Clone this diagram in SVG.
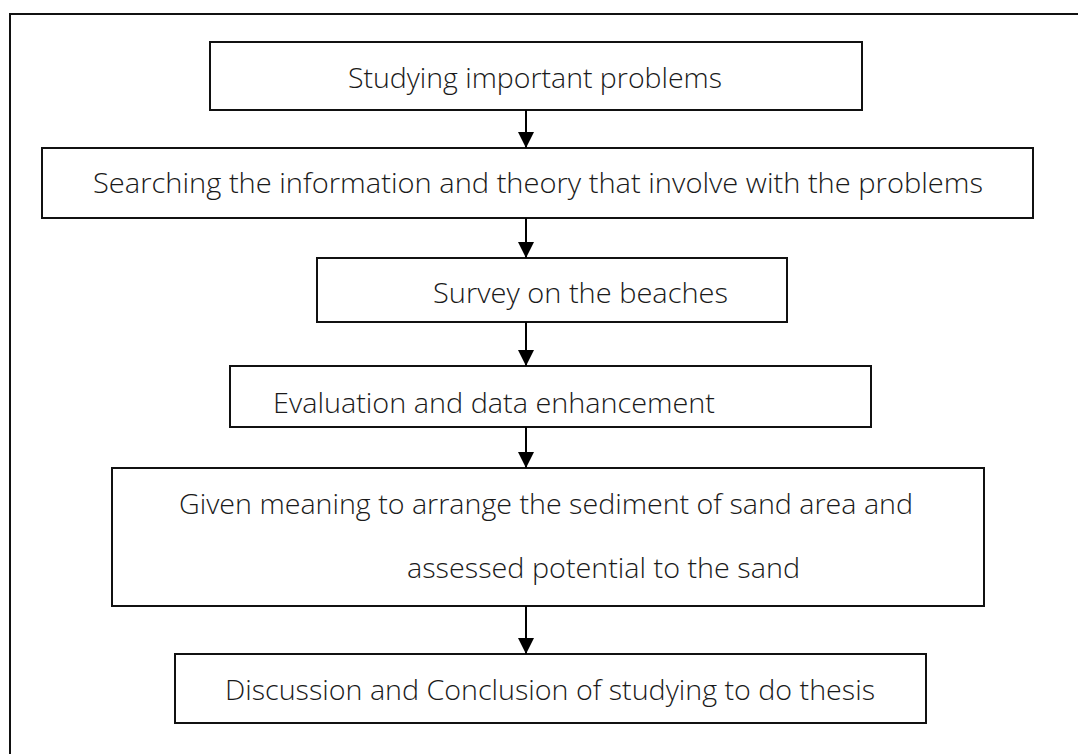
<svg xmlns="http://www.w3.org/2000/svg" width="1078" height="754" viewBox="0 0 1078 754">
<style>
.box{fill:#fff;stroke:#111;stroke-width:2}
.frame{fill:none;stroke:#111;stroke-width:2}
.t{font-family:"Open Sans","Noto Sans","Liberation Sans",sans-serif;font-size:28px;font-weight:300;fill:#1a1a1a}
.c{stroke:#000;stroke-width:2;fill:none;marker-end:url(#ah)}
</style>
<defs>
<marker id="ah" viewBox="0 0 16 16" refX="16" refY="8" markerWidth="16" markerHeight="16" markerUnits="userSpaceOnUse" orient="auto">
<path d="M0,0 L16,8 L0,16 Z" fill="#000"/>
</marker>
</defs>
<rect width="1078" height="754" fill="#fff"/>
<path class="frame" d="M10,754 V14 H1078"/>
<g id="n1"><rect class="box" x="210" y="42" width="652" height="68"/><text class="t" x="348" y="88" textLength="374" lengthAdjust="spacingAndGlyphs">Studying important problems</text></g>
<g id="n2"><rect class="box" x="42" y="148" width="991" height="70"/><text class="t" x="93" y="193" textLength="890" lengthAdjust="spacingAndGlyphs">Searching the information and theory that involve with the problems</text></g>
<g id="n3"><rect class="box" x="317" y="258" width="470" height="64"/><text class="t" x="433" y="303" textLength="295" lengthAdjust="spacingAndGlyphs">Survey on the beaches</text></g>
<g id="n4"><rect class="box" x="230" y="366" width="641" height="61"/><text class="t" x="273" y="413" textLength="442" lengthAdjust="spacingAndGlyphs">Evaluation and data enhancement</text></g>
<g id="n5"><rect class="box" x="112" y="468" width="872" height="138"/><text class="t" x="179" y="514" textLength="734" lengthAdjust="spacingAndGlyphs">Given meaning to arrange the sediment of sand area and</text><text class="t" x="407" y="578" textLength="393" lengthAdjust="spacingAndGlyphs">assessed potential to the sand</text></g>
<g id="n6"><rect class="box" x="175" y="654" width="751" height="69"/><text class="t" x="225" y="700" textLength="650" lengthAdjust="spacingAndGlyphs">Discussion and Conclusion of studying to do thesis</text></g>
<g id="connectors">
<line class="c" x1="526" y1="110" x2="526" y2="148"/>
<line class="c" x1="526" y1="218" x2="526" y2="258"/>
<line class="c" x1="526" y1="322" x2="526" y2="366"/>
<line class="c" x1="526" y1="427" x2="526" y2="468"/>
<line class="c" x1="526" y1="606" x2="526" y2="654"/>
</g>
</svg>
